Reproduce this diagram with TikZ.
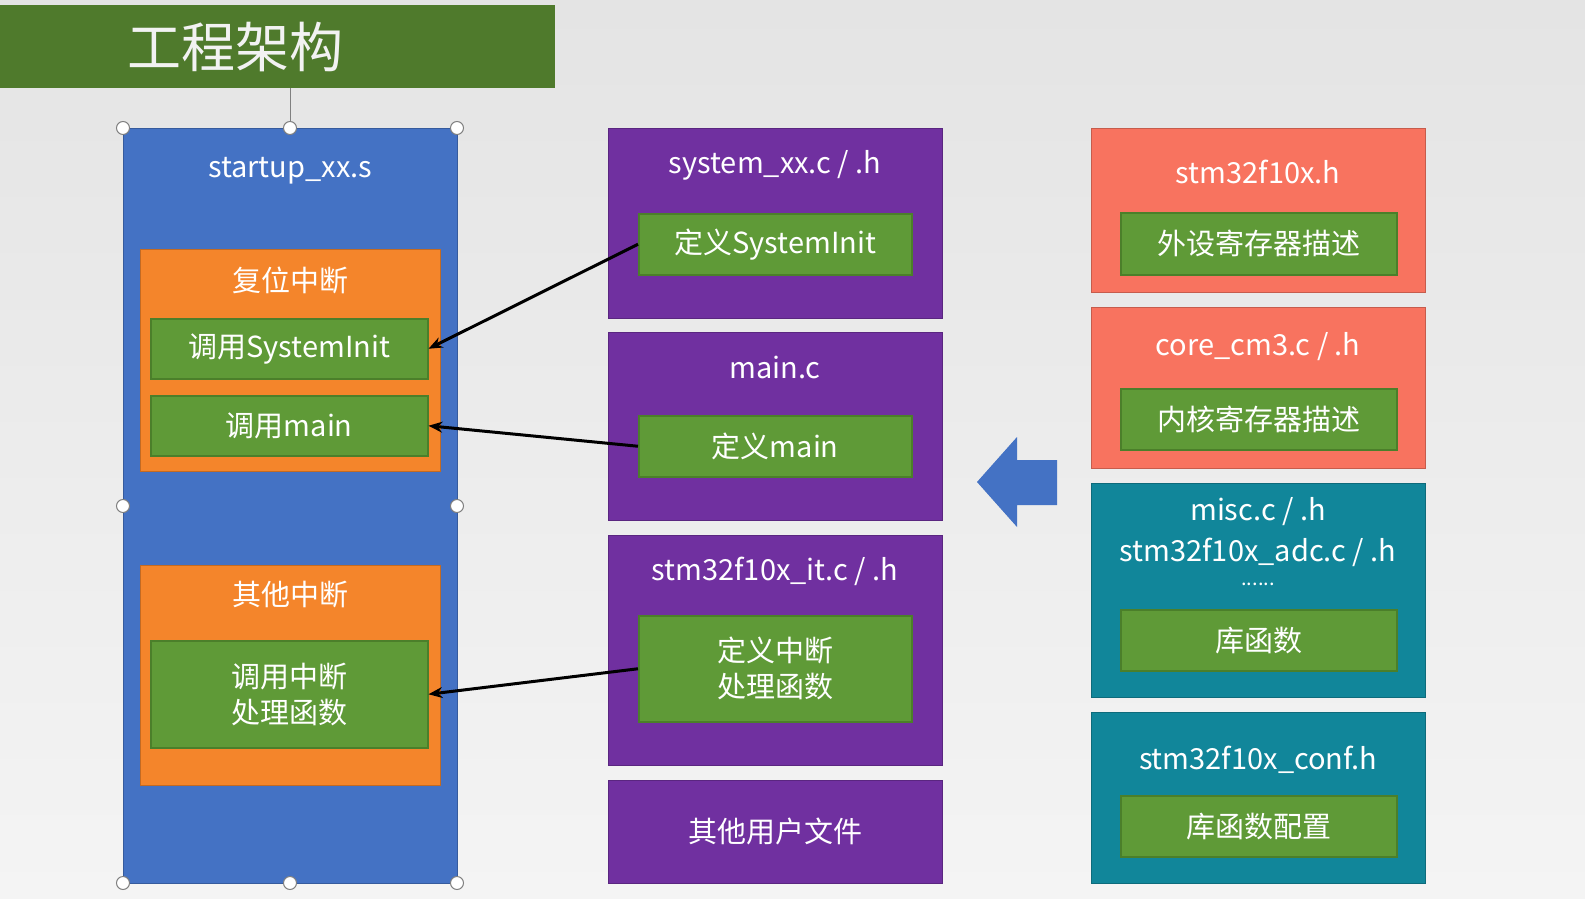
\documentclass[tikz,border=0pt]{standalone}
\usepackage{fontspec}
\setmainfont{Noto Sans CJK SC}
\usetikzlibrary{arrows.meta}
\definecolor{bgtop}{HTML}{E4E4E4}
\definecolor{bgbot}{HTML}{F4F4F4}
\definecolor{titleg}{HTML}{4F7A2C}
\definecolor{blu}{HTML}{4472C4}
\definecolor{org}{HTML}{F4852B}
\definecolor{grn}{HTML}{5F9A37}
\definecolor{grnb}{HTML}{4B7F2A}
\definecolor{pur}{HTML}{7030A0}
\definecolor{sal}{HTML}{F8735F}
\definecolor{teal}{HTML}{11869A}
\tikzset{
 box/.style={draw=#1!80!black, fill=#1, line width=1pt, inner sep=0pt},
 gbox/.style={draw=grnb, fill=grn, line width=1.5pt, text=white, font=\fontsize{29}{36}\selectfont, align=center, inner sep=0pt},
 lbl/.style={text=white, font=\fontsize{29}{36}\selectfont, align=center, inner sep=0pt},
 con/.style={-{Stealth[length=14pt,width=11pt]}, line width=3pt, black},
 handle/.style={circle, draw=gray, fill=white, line width=1pt, minimum size=13pt, inner sep=0pt}
}
\newcommand{\rbox}[6]{\node[#6, minimum width=#3-#1, minimum height=#4-#2, anchor=north west] (#5) at (#1,#2) {};}
\begin{document}
\begin{tikzpicture}[x=1pt,y=-1pt]
\useasboundingbox (0,0) rectangle (1585,899);
\shade[top color=bgtop, bottom color=bgbot] (0,0) rectangle (1585,899);
% title
\node[fill=titleg, minimum width=555pt, minimum height=83pt, anchor=north west, inner sep=0pt] (title) at (0,5) {};
\node[text=white!90!gray, font=\fontsize{54}{60}\selectfont] (tt) at (235,47) {工程架构};
% left column
\rbox{123}{128}{457}{883}{blue}{box=blu}
\node[lbl] (tstart) at (290,171) {startup\_xx.s};
\rbox{140}{249}{440}{471}{o1}{box=org}
\node[lbl] (to1) at (290,280) {复位中断};
\node[gbox, minimum width=277pt, minimum height=60pt, anchor=north west] (csys) at (150,318) {调用SystemInit};
\node[gbox, minimum width=277pt, minimum height=60pt, anchor=north west] (cmain) at (150,395) {调用main};
\rbox{140}{565}{440}{785}{o2}{box=org}
\node[lbl] (to2) at (290,595) {其他中断};
\node[gbox, minimum width=277pt, minimum height=107pt, anchor=north west] (cint) at (150,640) {调用中断\\处理函数};
% selection handles
\draw[gray, line width=1pt] (290,88) -- (290,128);
\foreach \x/\y [count=\i] in {123/128,290/128,457/128,123/506,457/506,123/883,290/883,457/883}
  \node[handle] (h\i) at (\x,\y) {};
% middle column
\rbox{608}{128}{942}{318}{p1}{box=pur}
\node[lbl] (tp1) at (775,165) {system\_xx.c / .h};
\node[gbox, minimum width=273pt, minimum height=61pt, anchor=north west] (dsys) at (638,213) {定义SystemInit};
\rbox{608}{332}{942}{520}{p2}{box=pur}
\node[lbl] (tp2) at (775,367) {main.c};
\node[gbox, minimum width=273pt, minimum height=61pt, anchor=north west] (dmain) at (638,415) {定义main};
\rbox{608}{535}{942}{765}{p3}{box=pur}
\node[lbl] (tp3) at (775,571) {stm32f10x\_it.c / .h};
\node[gbox, minimum width=273pt, minimum height=106pt, anchor=north west] (dint) at (638,615) {定义中断\\处理函数};
\rbox{608}{780}{942}{883}{p4}{box=pur}
\node[lbl] (tp4) at (775,831) {其他用户文件};
% right column
\rbox{1091}{128}{1425}{292}{r1}{box=sal}
\node[lbl] (tr1) at (1258,172) {stm32f10x.h};
\node[gbox, minimum width=276pt, minimum height=62pt, anchor=north west] (g1) at (1120,212) {外设寄存器描述};
\rbox{1091}{307}{1425}{468}{r2}{box=sal}
\node[lbl] (tr2) at (1258,347) {core\_cm3.c / .h};
\node[gbox, minimum width=276pt, minimum height=61pt, anchor=north west] (g2) at (1120,388) {内核寄存器描述};
\rbox{1091}{483}{1425}{697}{r3}{box=teal}
\node[lbl] (tr3a) at (1258,512) {misc.c / .h};
\node[lbl] (tr3b) at (1258,552) {stm32f10x\_adc.c / .h};
\node[lbl, font=\fontsize{20}{22}\selectfont] (tr3c) at (1258,584) {......};
\node[gbox, minimum width=276pt, minimum height=61pt, anchor=north west] (g3) at (1120,609) {库函数};
\rbox{1091}{712}{1425}{883}{r4}{box=teal}
\node[lbl] (tr4) at (1258,760) {stm32f10x\_conf.h};
\node[gbox, minimum width=276pt, minimum height=61pt, anchor=north west] (g4) at (1120,795) {库函数配置};
% big arrow
\fill[blu] (977,482) -- (1017,437) -- (1017,460) -- (1057,460) -- (1057,505) -- (1017,505) -- (1017,527) -- cycle;
% connectors
\draw[con] (dsys.west) -- (csys.east);
\draw[con] (dmain.west) -- (cmain.east);
\draw[con] (dint.west) -- (cint.east);
\end{tikzpicture}
\end{document}
